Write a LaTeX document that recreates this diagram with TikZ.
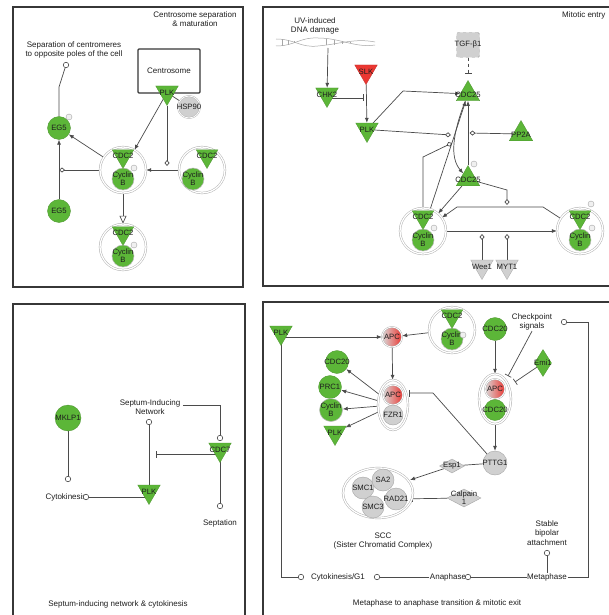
\documentclass[tikz,border=0pt]{standalone}
\usepackage{fontspec}
\setmainfont{Liberation Sans}
\usetikzlibrary{shapes.geometric,arrows.meta}
\definecolor{ipagreen}{RGB}{92,182,56}
\definecolor{ipared}{RGB}{235,55,50}
\definecolor{ipagrey}{RGB}{208,208,208}
\definecolor{edgec}{RGB}{75,75,75}
\definecolor{frame}{RGB}{55,55,55}
\definecolor{txtc}{RGB}{30,30,30}
\pgfdeclarelayer{bg}
\pgfdeclarelayer{edges}
\pgfsetlayers{bg,edges,main}
\tikzset{
  panel/.style={draw=frame, line width=1.5pt},
  ann/.style={font=\fontsize{8}{9.4}\selectfont, text=txtc, align=center, inner sep=0.5pt},
  lab/.style={font=\fontsize{7.7}{8}\selectfont, text=txtc, align=center, inner sep=0},
  gc/.style={circle, fill=ipagreen, draw=ipagreen!80!black, line width=0.3pt, minimum size=23pt, inner sep=0, label={[lab]center:#1}},
  gcy/.style={circle, fill=ipagreen, draw=gray!55, line width=0.5pt, minimum size=22pt, inner sep=0, label={[lab]center:{Cyclin\\B}}},
  gy/.style={circle, fill=ipagrey, draw=gray!70, line width=0.4pt, minimum size=22pt, inner sep=0, label={[lab]center:#1}},
  grc/.style={circle, fill=ipagrey, draw=gray!65, double=white, double distance=0.8pt, line width=0.4pt, minimum size=22pt, inner sep=0, label={[lab]center:#1}},
  apcg/.style={circle, left color=gray!30, right color=ipared, draw=gray!65, double=white, double distance=0.8pt, line width=0.4pt, minimum size=20pt, inner sep=0, label={[lab]center:APC}},
  gtd/.style={regular polygon, regular polygon sides=3, shape border rotate=180, fill=ipagreen, draw=ipagreen!80!black, line width=0.3pt, minimum size=26pt, inner sep=0, label={[lab]center:#1}},
  gtu/.style={regular polygon, regular polygon sides=3, fill=ipagreen, draw=ipagreen!80!black, line width=0.3pt, minimum size=27pt, inner sep=0, label={[lab, yshift=-1pt]center:#1}},
  gdia/.style={diamond, fill=ipagreen, draw=ipagreen!80!black, line width=0.3pt, minimum width=17pt, minimum height=27pt, inner sep=0, label={[lab]center:#1}},
  ydia/.style={diamond, fill=ipagrey, draw=gray!70, line width=0.4pt, inner sep=0, label={[lab]center:#1}},
  cring/.style={circle, draw=gray!65, fill=white, double=white, double distance=1.3pt, line width=0.45pt, minimum size=46pt, inner sep=0},
  cell/.style={ellipse, draw=gray!65, fill=white, double=white, double distance=1.3pt, line width=0.45pt, inner sep=0},
  endc/.style={circle, draw=edgec, fill=white, line width=0.6pt, minimum size=5.5pt, inner sep=0},
  pm/.style={circle, draw=gray!70, fill=gray!12, line width=0.4pt, minimum size=6pt, inner sep=0},
  e/.style={draw=edgec, line width=0.7pt},
  arr/.style={e, -{Latex[length=5pt,width=4pt]}},
  dia/.style={e, -{Diamond[open, length=6pt, width=5pt]}},
  inh/.style={e, -{Bar[width=7pt]}},
  oarr/.style={e, -{Triangle[open, length=8pt, width=7pt]}},
  degr/.style={e, -{Bar[width=6pt]Latex[length=5pt,width=4pt]}},
}
\newcommand\cdcx[5]{%
  \node[cring] (#1) at (#2,#3) {};
  \node[gtd=CDC2, minimum size=25pt] (#1t) at ([xshift=#4pt,yshift=14pt]#1.center) {};
  \node[gcy] (#1c) at ([xshift=#5pt,yshift=-9pt]#1.center) {};
}
\begin{document}
\begin{tikzpicture}[x=1pt,y=-1pt]
\useasboundingbox (0,0) rectangle (608,615);
\begin{pgfonlayer}{bg}
\fill[white] (0,0) rectangle (608,615);
\draw[panel] (13,7) rectangle (243,287);
\draw[panel] (263,7) rectangle (625,286);
\draw[panel] (13,304) rectangle (245,630);
\draw[panel] (263,302) rectangle (625,630);
\end{pgfonlayer}

% ---------------- Panel 1: Centrosome separation & maturation
\node[ann] (t1) at (195,19) {Centrosome separation\\\& maturation};
\node[ann] (sep) at (74,50) {Separation of centromeres\\to opposite poles of the cell};
\node[endc] (sepc) at (66,65) {};
\node[draw=frame, fill=white, line width=1.3pt, rounded corners=1pt, minimum width=62pt, minimum height=44pt, ann] (cs) at (169,71) {Centrosome};
\node[gtd=PLK] (plk1) at (167,92.5) {};
\node[grc=HSP90] (hsp) at (189,107) {};
\node[gc=EG5] (eg5a) at (59,128) {};
\node[pm] (eg5ap) at (69,117) {};
\node[gc=EG5] (eg5b) at (59,211) {};
\cdcx{cpx1}{123}{170}{0}{0}
\node[pm] (cpx1p) at (134,168) {};
\cdcx{cpx1r}{202}{170}{5}{-9}
\cdcx{cpx1b}{123}{247}{0}{0}
\node[pm] (cpx1bp) at (134,245) {};
\coordinate (d1) at (167,166);
\coordinate (d2) at (59,170);
\coordinate (b1) at (59,87);
\begin{pgfonlayer}{edges}
\draw[e] (hsp.center) -- (plk1.center);
\draw[arr] (plk1) -- (cpx1);
\draw[dia] (plk1.south) -- (d1);
\draw[arr] (cpx1r) -- (cpx1);
\draw[arr] (cpx1) -- (eg5a);
\draw[dia] (cpx1.west) -- (d2);
\draw[arr] (eg5b) -- (eg5a);
\draw[oarr] (cpx1) -- (cpx1b);
\draw[e] (eg5a) -- (b1) -- (sepc);
\end{pgfonlayer}

% ---------------- Panel 2: Mitotic entry
\node[ann, anchor=east] (t2) at (606,15) {Mitotic entry};
\node[ann] (uv) at (315,26) {UV-induced\\DNA damage};
\draw[gray!70, line width=0.5pt] (276,39) .. controls (295,39) and (300,48) .. (318,46) .. controls (340,44) and (355,38) .. (375,42);
\draw[gray!70, line width=0.5pt] (276,46) .. controls (295,46) and (300,37) .. (318,38) .. controls (340,38) and (355,48) .. (375,45);
\foreach \xa/\ya/\yb in {282/39.4/45.6, 288/40.3/44.7, 294/41.5/43.5, 326/39/45.4, 334/39.8/44.8, 342/40.8/44, 350/41.8/43}
  \draw[gray!70, line width=0.4pt] (\xa,\ya) -- (\xa,\yb);
\coordinate (dnab) at (328,48);
\node[gtd=CHK2] (chk2) at (327,94.5) {};
\node[gtd=SLK, fill=ipared, draw=ipared!80!black] (slk) at (366,71.5) {};
\node[gtd=PLK] (plk2) at (367,129.5) {};
\node[rectangle, rounded corners=1.5pt, dashed, draw=gray!70, fill=ipagrey, minimum width=23pt, minimum height=25pt, inner sep=0, label={[lab]center:TGF-β1}] (tgf) at (468,45) {};
\node[gtu=CDC25] (cdc25a) at (468,94) {};
\node[gtu=PP2A] (pp2a) at (521,134) {};
\node[gtu=CDC25] (cdc25b) at (468,179) {};
\node[pm] (cdc25bp) at (474,164) {};
\cdcx{cpxL}{423}{231}{0}{0}
\node[pm] (cpxLp) at (434,228) {};
\cdcx{cpxR}{580}{231}{0}{0}
\node[pm] (cpxRp1) at (591,204) {};
\node[pm] (cpxRp2) at (592,228) {};
\node[gtd=Wee1, fill=ipagrey, draw=gray!70] (wee1) at (482,266.5) {};
\node[gtd=MYT1, fill=ipagrey, draw=gray!70] (myt1) at (507,266.5) {};
\coordinate (chkend) at (364,98);
\coordinate (tgfend) at (468,74);
\coordinate (pb1) at (403,91);
\coordinate (dp) at (451,135);
\coordinate (cl1) at (423,157);
\coordinate (dc) at (452,143);
\coordinate (dpp) at (469.5,133);
\coordinate (cb1) at (507,190);
\coordinate (cb2) at (507,205);
\coordinate (r1) at (543,207);
\coordinate (r2) at (457,207);
\coordinate (w1) at (482,234);
\coordinate (m1) at (507,234);
\begin{pgfonlayer}{edges}
\draw[arr] (dnab) -- (chk2);
\draw[inh] (chk2.center |- chkend) -- (chkend);
\draw[arr] (slk) -- (plk2);
\draw[inh, dashed] (tgf) -- (tgfend);
\draw[arr] (plk2.center) -- (pb1) -- (cdc25a);
\draw[dia] (plk2.center) -- (dp);
\draw[dia] (cpxL.north) -- (cl1) -- (dc);
\draw[arr] (cpxL) -- (cdc25a);
\draw[arr] (cdc25a) .. controls (452,135) and (450,158) .. (cdc25b);
\draw[arr] (cdc25b) -- (cdc25a);
\draw[dia] (pp2a) -- (dpp);
\draw[arr] (cdc25b) -- (cpxL);
\draw[dia] (cdc25b.center) -- (cb1) -- (cb2);
\draw[arr] (cpxR) -- (r1) -- (r2) -- (cpxL);
\draw[arr] (cpxL) -- (cpxR);
\draw[dia] (wee1) -- (w1);
\draw[dia] (myt1) -- (m1);
\end{pgfonlayer}

% ---------------- Panel 3: Septum-inducing network & cytokinesis
\node[gc=MKLP1, minimum size=26pt] (mklp) at (68,418) {};
\node[endc] (cytc) at (68,479) {};
\node[ann] (cyt) at (66,497) {Cytokinesis};
\node[endc] (cytc2) at (86,497) {};
\node[gtd=PLK] (plk3) at (149,491.5) {};
\node[ann] (sin) at (150,407) {Septum-Inducing\\Network};
\node[endc] (sinc) at (149,422) {};
\node[endc] (cdc7c) at (220,438) {};
\node[gtd=CDC7] (cdc7) at (220,449.5) {};
\node[endc] (septc) at (220,506) {};
\node[ann] (sept) at (220,523) {Septation};
\node[ann] (t3) at (118,604) {Septum-inducing network \& cytokinesis};
\coordinate (sinb) at (220,405);
\coordinate (inhc7) at (156,454);
\begin{pgfonlayer}{edges}
\draw[e] (mklp) -- (cytc);
\draw[e] (cytc2) -- (cytc2 -| plk3.center);
\draw[e] (sinc) -- (plk3.center);
\draw[e] ([xshift=2pt]sin.east |- sinb) -- (sinb) -- (cdc7c);
\draw[inh] (cdc7.center |- inhc7) -- (inhc7);
\draw[e] (cdc7.center) -- (septc);
\end{pgfonlayer}

% ---------------- Panel 4: Metaphase to anaphase transition & mitotic exit
\node[gtd=PLK] (plk4) at (281,332.5) {};
\node[apcg] (apc1) at (392,337) {};
\cdcx{cpx4}{452}{330}{0}{0}
\node[pm] (cpx4p) at (463,335) {};
\node[cell, minimum width=30pt, minimum height=50pt] (apcfzr) at (393,405) {};
\node[apcg] (apc2) at (393,395) {};
\node[gy=FZR1, minimum size=20pt] (fzr1) at (393,415) {};
\node[gc=CDC20] (cdc20a) at (337,362) {};
\node[gc=PRC1] (prc1) at (330,387) {};
\node[gcy, minimum size=23pt] (cycb4) at (331,410) {};
\node[gtd=PLK] (plk4b) at (335,432.5) {};
\node[gc=CDC20] (cdc20b) at (495,329) {};
\node[cell, minimum width=32pt, minimum height=50pt] (apccdc) at (495,399) {};
\node[apcg] (apc3) at (495,389) {};
\node[gc=CDC20, minimum size=21pt] (cdc20c) at (495,410) {};
\node[gdia=Emi1] (emi1) at (543,363) {};
\node[ann] (chk) at (532,322) {Checkpoint\\signals};
\node[endc] (chkc) at (564,322) {};
\node[gy=PTTG1, minimum size=24pt] (pttg1) at (495,463) {};
\node[ydia=Esp1, minimum width=25pt, minimum height=14pt] (esp1) at (452,466) {};
\node[ydia={Calpain\\1}, minimum width=34pt, minimum height=18pt] (calp) at (464,498) {};
\node[cell, minimum width=70pt, minimum height=50pt] (scc) at (378,493) {};
\node[gy=SMC1] (smc1) at (363,488) {};
\node[gy=SMC3] (smc3) at (373,507) {};
\node[gy=SA2] (sa2) at (383,480) {};
\node[gy=RAD21] (rad21) at (396,499) {};
\node[ann] (scct) at (383,541) {SCC\\(Sister Chromatid Complex)};
\node[ann] (stab) at (547,533) {Stable\\bipolar\\attachment};
\node[endc] (stabc) at (547,553) {};
\node[ann] (cg1) at (338,577) {Cytokinesis/G1};
\node[endc] (cg1l) at (301,577) {};
\node[endc] (cg1r) at (377,577) {};
\node[ann] (ana) at (448,577) {Anaphase};
\node[endc] (anac) at (468,577) {};
\node[ann] (meta) at (547,577) {Metaphase};
\node[ann] (t4) at (437,603) {Metaphase to anaphase transition \& mitotic exit};
\coordinate (pbend) at (433,393);
\coordinate (pend) at (409,393);
\coordinate (ckend) at (508,376);
\coordinate (emend) at (515,382);
\coordinate (sccin) at (410,480);
\coordinate (corner1) at (281,577);
\coordinate (corner2) at (588,577);
\coordinate (corner3) at (588,322);
\begin{pgfonlayer}{edges}
\draw[arr] (plk4.center |- apc1) -- (apc1);
\draw[arr] (cpx4) -- (apc1);
\draw[arr] (apc1) -- (apcfzr);
\draw[arr] (apcfzr) -- (cdc20a);
\draw[arr] (apcfzr) -- (prc1);
\draw[arr] (apcfzr) -- (cycb4);
\draw[arr] (apcfzr) -- (plk4b);
\draw[inh] (pttg1) -- (pbend) -- (pend);
\draw[arr] (cdc20b) -- (apccdc);
\draw[inh] (chk.south) -- (ckend);
\draw[inh] (emi1) -- (emend);
\draw[arr] (apccdc) -- (pttg1);
\draw[e] (pttg1) -- (esp1);
\draw[arr] (esp1) -- (sccin);
\draw[degr] (calp) -- (rad21);
\draw[e] (plk4.center) -- (corner1) -- (cg1l);
\draw[e] (ana.west) -- (cg1r);
\draw[e] (meta.west) -- (anac);
\draw[e] (meta.east) -- (corner2) -- (corner3) -- (chkc);
\draw[e] (stabc) -- (meta.north);
\end{pgfonlayer}
\end{tikzpicture}
\end{document}
